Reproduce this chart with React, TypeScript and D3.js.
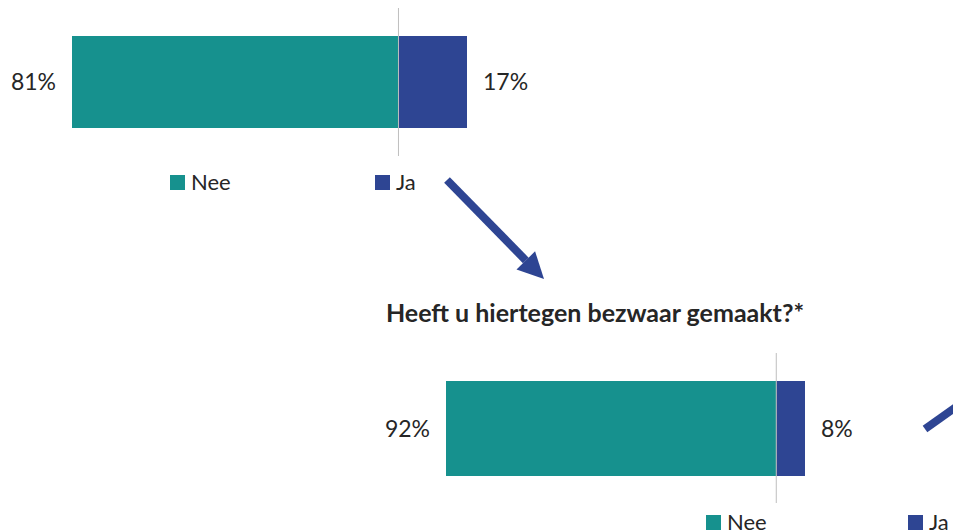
import React from "react";
import * as d3 from "d3";

const categories = ["Nee", "Ja"];
const topValues = [81, 17];
const bottomValues = [92, 8];
const bottomTitle = "Heeft u hiertegen bezwaar gemaakt?*";

const COLORS = ["#16918E", "#2E4593"];
const FONT = "Lato, 'Open Sans', sans-serif";

type Panel = {
  values: number[];
  range: [number, number];
  barY: [number, number];
  axisY: [number, number];
  legendX: [number, number];
  legendY: number;
};

const panels: Panel[] = [
  { values: topValues, range: [72, 467], barY: [36, 128], axisY: [8, 156], legendX: [170, 375], legendY: 175 },
  { values: bottomValues, range: [446, 805], barY: [381, 476], axisY: [353, 503], legendX: [706, 908], legendY: 515 },
];

function BarPanel({ p }: { p: Panel }) {
  const [nee, ja] = p.values;
  const x = d3.scaleLinear().domain([-nee, ja]).range(p.range);
  const y = d3.scaleLinear().domain([0, 1]).range(p.barY);
  const cy = y(0.5);
  return (
    <g>
      <rect x={x(-nee)} y={y(0)} width={x(0) - x(-nee)} height={y(1) - y(0)} fill={COLORS[0]} />
      <rect x={x(0)} y={y(0)} width={x(ja) - x(0)} height={y(1) - y(0)} fill={COLORS[1]} />
      <line x1={x(0)} x2={x(0)} y1={p.axisY[0]} y2={p.axisY[1]} stroke="#BFBFBF" strokeWidth={1} />
      <text x={x(-nee) - 16} y={cy} dy="0.36em" textAnchor="end" fontSize={23} fill="#262626" fontFamily={FONT}>
        {nee}%
      </text>
      <text x={x(ja) + 16} y={cy} dy="0.36em" textAnchor="start" fontSize={23} fill="#262626" fontFamily={FONT}>
        {ja}%
      </text>
      {categories.map((c, i) => (
        <g key={c}>
          <rect x={p.legendX[i]} y={p.legendY} width={15} height={15} fill={COLORS[i]} />
          <text x={p.legendX[i] + 21} y={p.legendY + 15} fontSize={22} fill="#262626" fontFamily={FONT}>
            {c}
          </text>
        </g>
      ))}
    </g>
  );
}

function Arrow({ x1, y1, x2, y2, head }: { x1: number; y1: number; x2: number; y2: number; head: boolean }) {
  const ang = Math.atan2(y2 - y1, x2 - x1);
  const hl = 26;
  const hw = 13;
  const bx = x2 - hl * Math.cos(ang);
  const by = y2 - hl * Math.sin(ang);
  const px = -Math.sin(ang);
  const py = Math.cos(ang);
  const path = d3.path();
  path.moveTo(x2, y2);
  path.lineTo(bx + px * hw, by + py * hw);
  path.lineTo(bx - px * hw, by - py * hw);
  path.closePath();
  return (
    <g>
      <line x1={x1} y1={y1} x2={head ? bx : x2} y2={head ? by : y2} stroke="#2E4593" strokeWidth={8} />
      {head && <path d={path.toString()} fill="#2E4593" />}
    </g>
  );
}

export default function App() {
  return (
    <svg width={953} height={532} style={{ position: "absolute", left: 0, top: 0, background: "#fff" }}>
      <rect width={953} height={532} fill="#fff" />
      {panels.map((p, i) => (
        <BarPanel key={i} p={p} />
      ))}
      <text x={595} y={322} textAnchor="middle" fontSize={25} fontWeight="bold" fill="#262626" fontFamily={FONT}>
        {bottomTitle}
      </text>
      <Arrow x1={447} y1={180} x2={544} y2={279} head={true} />
      <Arrow x1={925} y1={429} x2={990} y2={383} head={false} />
    </svg>
  );
}
